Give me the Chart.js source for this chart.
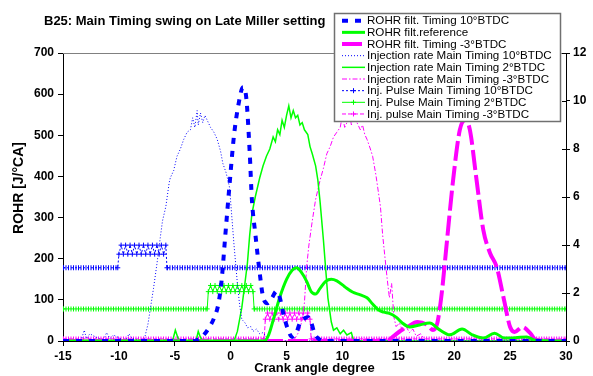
<!DOCTYPE html>
<html>
<head>
<meta charset="utf-8">
<script src="https://cdn.jsdelivr.net/npm/chart.js@4.4.1/dist/chart.umd.min.js"></script>
<style>
  html, body { margin: 0; padding: 0; background: #fff; }
</style>
</head>
<body>
<canvas id="chart" width="593" height="376"></canvas>
<script>
// values (crank angle in degrees)
var titleText = 'B25: Main Timing swing on Late Miller setting';
var yTitle = 'ROHR [J/°CA]';
var xTitle = 'Crank angle degree';

// ROHR curves, left axis [J/°CA]
var rohr10X = [-15, -3.2, -2.9, -2.4, -1.9, -1.5, -1.1, -0.8, -0.5, -0.1, 0.3, 0.7, 1.1, 1.4, 1.7, 1.9, 2.2, 2.6, 2.9, 3.3, 3.7, 4.1, 4.4, 4.7, 5.1, 5.5, 5.9, 6.2, 6.6, 6.9, 7.2, 7.5, 7.8, 8.3, 30];
var rohr10Y = [0, 0, 4, 15, 34, 55, 90, 150, 250, 380, 500, 575, 617, 590, 460, 343, 262, 165, 107, 92, 105, 121, 105, 68, 30, 10, 22, 44, 55, 58, 45, 19, 7, 0, 0];

var rohrRefX = [-15, 3.0, 3.4, 3.9, 4.4, 5.0, 5.5, 5.9, 6.3, 6.8, 7.2, 7.6, 8.0, 8.5, 9.0, 9.5, 10.2, 10.9, 11.6, 12.2, 12.7, 13.2, 13.7, 14.2, 14.8, 15.3, 16.0, 16.9, 17.8, 18.7, 19.6, 20.7, 21.6, 22.6, 23.6, 24.5, 25.5, 26.5, 27.2, 30];
var rohrRefY = [0, 0, 15, 60, 107, 150, 172, 178, 168, 145, 120, 114, 128, 145, 150, 146, 132, 119, 112, 105, 90, 76, 70, 67, 58, 45, 34, 39, 44, 27, 15, 29, 15, 7, 19, 7, 8, 10, 2, 0];

var rohrM3X = [-15, 14.0, 14.5, 15.2, 15.8, 16.7, 17.6, 18.1, 18.5, 18.9, 19.3, 19.9, 20.5, 21.0, 21.4, 22.0, 22.6, 23.2, 23.8, 24.4, 25.0, 25.4, 26.1, 26.8, 27.3, 30];
var rohrM3Y = [0, 0, 10, 25, 34, 46, 39, 27, 45, 120, 229, 391, 513, 537, 513, 391, 270, 214, 180, 107, 34, 22, 34, 19, 3, 0];

// injection rates, right axis
var inj10X = [-15, -13.4, -13.1, -12.9, -12.6, -11.4, -11.1, -10.8, -10.5, -9.4, -9.1, -8.8, -8.0, -7.7, -7.4, -7.2, -6.9, -6.6, -6.3, -6.1, -5.8, -5.5, -5.4, -5.1, -4.8, -4.5, -4.2, -3.9, -3.6, -3.4, -3.2, -3.0, -2.9, -2.7, -2.5, -2.3, -2.1, -1.8, -1.5, -1.2, -0.9, -0.7, -0.4, -0.1, 0.1, 0.3, 0.6, 0.8, 1.0, 1.3, 1.5, 1.8, 2.0, 2.3, 2.6, 2.9, 3.3, 3.6, 30];
var inj10Y = [0, 0, 0.45, 0.1, 0.3, 0, 0.35, 0.1, 0.25, 0, 0.3, 0.1, 0, 0.12, 0.7, 1.3, 2.2, 3.2, 4.3, 5.0, 5.6, 6.6, 6.8, 7.1, 7.7, 8.0, 8.4, 8.7, 8.8, 9.3, 8.9, 9.6, 9.0, 9.5, 9.1, 9.4, 9.2, 8.9, 8.7, 8.4, 7.9, 7.4, 7.0, 6.4, 5.2, 4.0, 2.4, 1.5, 0.9, 0.75, 0.55, 0.6, 0.4, 0.5, 0.3, 0.35, 0.1, 0, 0];

var inj2X = [-15, -5.2, -4.95, -4.7, -4.5, -3.1, -2.9, -2.7, -2.5, 0.3, 0.6, 0.8, 1.0, 1.3, 1.5, 1.7, 1.9, 2.2, 2.6, 2.9, 3.2, 3.5, 3.8, 4.0, 4.2, 4.4, 4.6, 4.8, 5.0, 5.2, 5.4, 5.6, 5.8, 6.0, 6.2, 6.4, 6.6, 6.9, 7.1, 7.3, 7.6, 7.8, 8.0, 8.3, 8.5, 8.7, 9.0, 9.2, 9.5, 9.8, 10.1, 10.4, 10.8, 11.0, 30];
var inj2Y = [0, 0, 0.45, 0.1, 0, 0, 0.4, 0.15, 0, 0, 0.4, 0.9, 1.4, 2.5, 3.25, 4.4, 5.3, 6.0, 6.8, 7.3, 7.7, 8.0, 8.5, 8.3, 8.8, 8.6, 9.2, 8.9, 9.4, 9.8, 9.3, 9.6, 9.3, 9.4, 9.0, 9.1, 8.8, 8.6, 8.1, 7.8, 7.3, 6.7, 5.8, 4.2, 3.0, 1.8, 0.8, 0.45, 0.55, 0.3, 0.45, 0.25, 0.35, 0, 0];

var injM3X = [-15, 5.6, 6.0, 6.2, 6.4, 6.6, 6.8, 7.0, 7.3, 7.6, 8.0, 8.3, 8.6, 8.9, 9.2, 9.5, 9.8, 10.0, 10.2, 10.4, 10.6, 10.8, 11.0, 11.3, 11.6, 11.8, 12.0, 12.2, 12.5, 12.7, 13.0, 13.4, 13.6, 13.8, 14.0, 14.2, 14.4, 14.6, 14.8, 15.1, 15.4, 15.7, 16.0, 16.3, 16.6, 17.0, 17.4, 30];
var injM3Y = [0, 0, 0.3, 0.5, 0.9, 1.6, 3.1, 4.0, 5.0, 5.9, 6.7, 7.2, 7.8, 8.1, 8.5, 8.7, 8.9, 9.4, 8.9, 9.1, 9.6, 9.0, 9.3, 9.1, 8.8, 9.0, 8.6, 8.4, 8.0, 7.7, 6.9, 5.6, 4.4, 3.5, 2.6, 1.8, 2.4, 1.0, 0.6, 0.75, 0.4, 0.6, 0.35, 0.5, 0.2, 0.3, 0, 0];

// injector pulse signals, plotted against the left axis
var pulse10X = [-15, -10.1, -10.0, -9.8, -9.6, -9.4, -9.2, -9.0, -8.8, -8.6, -8.4, -8.2, -8.0, -7.8, -7.6, -7.4, -7.2, -7.0, -6.8, -6.6, -6.4, -6.2, -6.0, -5.8, -5.7, 30];
var pulse10Y = [178, 178, 211, 233, 211, 233, 211, 233, 211, 233, 211, 233, 211, 233, 211, 233, 211, 233, 211, 233, 211, 233, 211, 233, 178, 178];

var pulse2X = [-15, -2.1, -2.0, -1.8, -1.6, -1.4, -1.2, -1.0, -0.8, -0.6, -0.4, -0.2, 0.0, 0.2, 0.4, 0.6, 0.8, 1.0, 1.2, 1.4, 1.6, 1.8, 2.0, 2.1, 30];
var pulse2Y = [78, 78, 120, 135, 120, 135, 120, 135, 120, 135, 120, 135, 120, 135, 120, 135, 120, 135, 120, 135, 120, 135, 120, 78, 78];

var pulseM3X = [-15, 3.0, 3.1, 3.3, 3.5, 3.7, 3.9, 4.1, 4.3, 4.5, 4.7, 4.9, 5.1, 5.3, 5.5, 5.7, 5.9, 6.1, 6.3, 6.5, 6.7, 6.9, 7.1, 7.2, 30];
var pulseM3Y = [5, 5, 53, 68, 53, 68, 53, 68, 53, 68, 53, 68, 53, 68, 53, 68, 53, 68, 53, 68, 53, 68, 53, 5, 5];

var BLUE = '#0000ff', GREEN = '#00ff00', MAGENTA = '#ff00ff';
var FONT = '"Liberation Sans", Arial, sans-serif';

function pts(xs, ys) {
  return xs.map(function (x, i) { return { x: x, y: ys[i] }; });
}
// only the flat (idle) part of a pulse, used for the hatched look
function idle(xs, ys) {
  var base = ys[0];
  return xs.map(function (x, i) { return { x: x, y: ys[i] === base ? base : null }; });
}

function pulseSet(label, xs, ys, color, dash) {
  return {
    label: label, data: pts(xs, ys), yAxisID: 'y', borderColor: color, backgroundColor: color,
    borderWidth: 1, borderDash: dash, pointStyle: 'cross', pointRadius: 2.5,
    pointBorderColor: color, pointBorderWidth: 1, marker: true
  };
}
function hatchSet(xs, ys, color) {
  return {
    label: '', data: idle(xs, ys), yAxisID: 'y', borderColor: color, borderWidth: 5,
    borderDash: [1, 1.5], pointRadius: 0, spanGaps: false, hatch: true
  };
}

Chart.defaults.font.family = FONT;
Chart.defaults.color = '#000';

// title, axis title, legend box, top frame and inner right ticks
var decor = {
  id: 'decor',
  afterDraw: function (chart) {
    var ctx = chart.ctx, a = chart.chartArea;
    ctx.save();
    ctx.strokeStyle = '#808080';
    ctx.lineWidth = 1;
    ctx.beginPath();
    ctx.moveTo(a.left, a.top + 0.5);
    ctx.lineTo(a.right, a.top + 0.5);
    ctx.stroke();

    var y2 = chart.scales.y2;
    ctx.strokeStyle = '#000';
    y2.ticks.forEach(function (t) {
      var py = Math.round(y2.getPixelForValue(t.value)) + 0.5;
      ctx.beginPath();
      ctx.moveTo(a.right - 4, py);
      ctx.lineTo(a.right, py);
      ctx.stroke();
    });

    ctx.fillStyle = '#000';
    ctx.font = 'bold 13px ' + FONT;
    ctx.textAlign = 'left';
    ctx.textBaseline = 'middle';
    ctx.fillText(titleText, 44, 21);

    ctx.save();
    ctx.translate(19, 188);
    ctx.rotate(-Math.PI / 2);
    ctx.textAlign = 'center';
    ctx.font = 'bold 14px ' + FONT;
    ctx.fillText(yTitle, 0, 0);
    ctx.restore();

    // legend
    ctx.textAlign = 'left';
    ctx.fillStyle = '#fff';
    ctx.fillRect(334, 13, 226, 108);
    ctx.strokeStyle = '#707070';
    ctx.lineWidth = 1.5;
    ctx.strokeRect(334.5, 13.5, 226, 108);
    ctx.font = '11.6px ' + FONT;
    var row = 0;
    chart.data.datasets.forEach(function (ds) {
      if (ds.hatch) return;
      var y = 20.7 + row * 11.66;
      ctx.save();
      ctx.strokeStyle = ds.borderColor;
      ctx.lineWidth = Math.min(ds.borderWidth, 4);
      ctx.setLineDash(ds.borderDash || []);
      ctx.beginPath();
      ctx.moveTo(342, y);
      ctx.lineTo(365, y);
      ctx.stroke();
      if (ds.marker) {
        ctx.setLineDash([]);
        ctx.lineWidth = 1;
        ctx.beginPath();
        ctx.moveTo(351, y); ctx.lineTo(356, y);
        ctx.moveTo(353.5, y - 2.5); ctx.lineTo(353.5, y + 2.5);
        ctx.stroke();
      }
      ctx.restore();
      ctx.fillStyle = '#000';
      ctx.fillText(ds.label, 367, y + 0.5);
      row++;
    });
    ctx.restore();
  }
};

new Chart(document.getElementById('chart'), {
  type: 'line',
  data: {
    datasets: [
      { label: 'ROHR filt. Timing 10°BTDC', data: pts(rohr10X, rohr10Y), yAxisID: 'y', borderColor: BLUE,
        borderWidth: 4, borderDash: [6, 7], cubicInterpolationMode: 'monotone' },
      { label: 'ROHR filt.reference', data: pts(rohrRefX, rohrRefY), yAxisID: 'y', borderColor: GREEN,
        borderWidth: 3, cubicInterpolationMode: 'monotone' },
      { label: 'ROHR filt. Timing -3°BTDC', data: pts(rohrM3X, rohrM3Y), yAxisID: 'y', borderColor: MAGENTA,
        borderWidth: 4, borderDash: [20, 5], cubicInterpolationMode: 'monotone' },
      { label: 'Injection rate Main Timing 10°BTDC', data: pts(inj10X, inj10Y), yAxisID: 'y2', borderColor: BLUE,
        borderWidth: 1, borderDash: [1, 2] },
      { label: 'Injection rate Main Timing 2°BTDC', data: pts(inj2X, inj2Y), yAxisID: 'y2', borderColor: GREEN,
        borderWidth: 1.5 },
      { label: 'Injection rate Main Timing -3°BTDC', data: pts(injM3X, injM3Y), yAxisID: 'y2', borderColor: MAGENTA,
        borderWidth: 1, borderDash: [5, 2, 1.5, 2] },
      pulseSet('Inj. Pulse Main Timing 10°BTDC', pulse10X, pulse10Y, BLUE, [2, 2]),
      pulseSet('Inj. Pulse Main Timing 2°BTDC', pulse2X, pulse2Y, GREEN, []),
      pulseSet('Inj. pulse Main Timing -3°BTDC', pulseM3X, pulseM3Y, MAGENTA, [4, 2]),
      hatchSet(pulse10X, pulse10Y, BLUE),
      hatchSet(pulse2X, pulse2Y, GREEN),
      hatchSet(pulseM3X, pulseM3Y, MAGENTA)
    ]
  },
  options: {
    responsive: false,
    animation: false,
    devicePixelRatio: 1,
    layout: { padding: { top: 53, left: 0, right: 0, bottom: 0 } },
    elements: { point: { radius: 0 }, line: { tension: 0, borderCapStyle: 'butt' } },
    plugins: { legend: { display: false }, title: { display: false }, tooltip: { enabled: false } },
    scales: {
      x: {
        type: 'linear', min: -15, max: 30,
        ticks: { stepSize: 5, padding: 3, font: { size: 12, weight: 'bold' } },
        grid: { drawOnChartArea: false, tickLength: 5, color: '#000' },
        border: { color: '#000' },
        title: { display: true, text: xTitle, font: { size: 13, weight: 'bold' }, padding: 0 },
        afterFit: function (s) { s.height = 35; }
      },
      y: {
        position: 'left', min: 0, max: 700,
        ticks: { stepSize: 100, padding: 4, font: { size: 12, weight: 'bold' } },
        grid: { drawOnChartArea: false, tickLength: 5, color: '#000' },
        border: { color: '#000' },
        afterFit: function (s) { s.width = 63; }
      },
      y2: {
        position: 'right', min: 0, max: 12,
        ticks: { stepSize: 2, padding: 3, font: { size: 12, weight: 'bold' } },
        grid: { drawOnChartArea: false, tickLength: 4, color: '#000' },
        border: { color: '#000' },
        afterFit: function (s) { s.width = 27; }
      }
    }
  },
  plugins: [decor]
});
</script>
</body>
</html>
